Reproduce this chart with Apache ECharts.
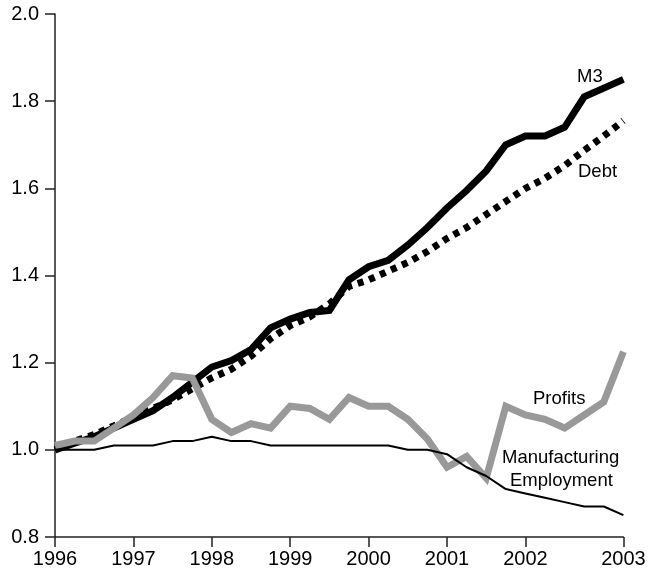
<!DOCTYPE html>
<html>
<head>
<meta charset="utf-8">
<script src="https://cdn.jsdelivr.net/npm/echarts@6/dist/echarts.min.js"></script>
<style>
  html, body { margin: 0; padding: 0; background: #fff; }
  #chart { width: 661px; height: 574px; }
</style>
</head>
<body>
<div id="chart"></div>
<script>
// quarterly points, 1996 Q1 .. 2003 (last point carries the 2003 label)
const quarters = ['1996', '', '', '', '1997', '', '', '', '1998', '', '', '', '1999', '', '', '',
  '2000', '', '', '', '2001', '', '', '', '2002', '', '', '', '', '2003']

const m3 = [1.00, 1.015, 1.03, 1.05, 1.07, 1.09, 1.12, 1.155, 1.19, 1.205,
  1.23, 1.28, 1.30, 1.315, 1.32, 1.39, 1.42, 1.435, 1.47, 1.51,
  1.555, 1.595, 1.64, 1.70, 1.72, 1.72, 1.74, 1.81, 1.83, 1.85]

const debt = [1.00, 1.02, 1.035, 1.055, 1.075, 1.095, 1.115, 1.14, 1.165, 1.185,
  1.215, 1.255, 1.285, 1.305, 1.335, 1.375, 1.39, 1.41, 1.43, 1.455,
  1.485, 1.51, 1.54, 1.57, 1.60, 1.623, 1.652, 1.687, 1.72, 1.755]

const profits = [1.01, 1.02, 1.02, 1.05, 1.08, 1.12, 1.17, 1.165, 1.07, 1.04,
  1.06, 1.05, 1.10, 1.095, 1.07, 1.12, 1.10, 1.10, 1.07, 1.025,
  0.96, 0.985, 0.935, 1.10, 1.08, 1.07, 1.05, 1.08, 1.11, 1.225]

const employment = [1.00, 1.00, 1.00, 1.01, 1.01, 1.01, 1.02, 1.02, 1.03, 1.02,
  1.02, 1.01, 1.01, 1.01, 1.01, 1.01, 1.01, 1.01, 1.00, 1.00,
  0.99, 0.96, 0.94, 0.91, 0.90, 0.89, 0.88, 0.87, 0.87, 0.85]

const font = 'Liberation Sans, Arial, sans-serif'
const fs = 18.5   // annotation labels
const axisFs = 20 // tick labels

const chart = echarts.init(document.getElementById('chart'))
const showTick = (idx) => quarters[idx] !== ''

chart.setOption({
  animation: false,
  backgroundColor: '#fff',
  grid: { left: 55, right: 37.6, top: 14, bottom: 37 },
  xAxis: {
    type: 'category',
    data: quarters,
    boundaryGap: false,
    axisLine: { lineStyle: { color: '#222', width: 1.5 } },
    axisTick: { interval: showTick, length: 10, lineStyle: { color: '#222', width: 1.5 } },
    axisLabel: { interval: showTick, margin: 12, color: '#000', fontFamily: font, fontSize: axisFs },
    splitLine: { show: false }
  },
  yAxis: {
    type: 'value',
    min: 0.8,
    max: 2.0,
    interval: 0.2,
    axisLine: { show: true, lineStyle: { color: '#222', width: 1.5 } },
    axisTick: { show: true, length: 10, lineStyle: { color: '#222', width: 1.5 } },
    axisLabel: { margin: 16, color: '#000', fontFamily: font, fontSize: axisFs, formatter: v => v.toFixed(1) },
    splitLine: { show: false }
  },
  series: [
    {
      name: 'M3', type: 'line', data: m3, symbol: 'none',
      lineStyle: { color: '#000', width: 7, join: 'miter' }
    },
    {
      name: 'Debt', type: 'line', data: debt, symbol: 'none',
      lineStyle: { color: '#000', width: 7, type: [6, 6], cap: 'butt' }
    },
    {
      name: 'Profits', type: 'line', data: profits, symbol: 'none',
      lineStyle: { color: '#999', width: 7, join: 'miter' }
    },
    {
      name: 'Manufacturing Employment', type: 'line', data: employment, symbol: 'none',
      lineStyle: { color: '#000', width: 2 }
    }
  ],
  graphic: [
    { type: 'text', left: 577, top: 67, style: { text: 'M3', font: fs + 'px ' + font, fill: '#000' } },
    { type: 'text', left: 578, top: 162, style: { text: 'Debt', font: fs + 'px ' + font, fill: '#000' } },
    { type: 'text', left: 533, top: 389, style: { text: 'Profits', font: fs + 'px ' + font, fill: '#000' } },
    { type: 'text', left: 502, top: 448, style: { text: 'Manufacturing', font: fs + 'px ' + font, fill: '#000' } },
    { type: 'text', left: 510, top: 471, style: { text: 'Employment', font: fs + 'px ' + font, fill: '#000' } }
  ]
})
</script>
</body>
</html>
